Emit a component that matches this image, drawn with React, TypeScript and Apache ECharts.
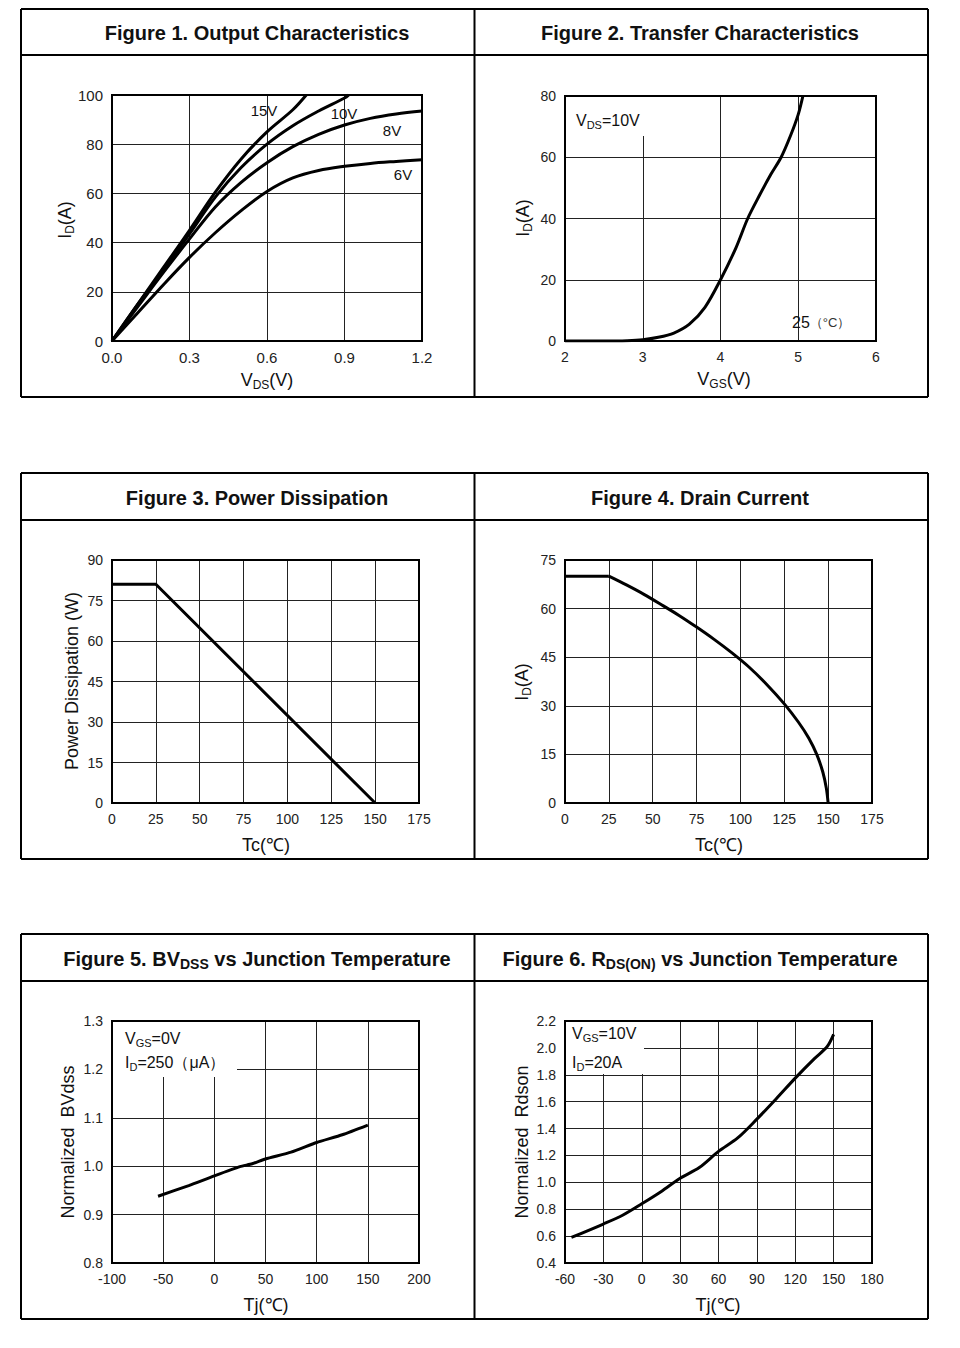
import React, { useEffect, useRef } from "react";
import * as echarts from "echarts";

const FONT = "'Liberation Sans', Arial, Helvetica, sans-serif";

// ---------- Figure 1: Output Characteristics ----------
const fig1XTicks = [0, 0.3, 0.6, 0.9, 1.2];
const fig1YTicks = [0, 20, 40, 60, 80, 100];
const fig1Vgs15 = [[0, 0], [0.1, 15], [0.2, 30], [0.3, 45], [0.4, 60.5], [0.5, 74], [0.6, 85], [0.7, 94], [0.752, 100]];
const fig1Vgs10 = [[0, 0], [0.1, 15], [0.2, 29], [0.3, 43.5], [0.4, 58.5], [0.5, 70.5], [0.6, 80], [0.7, 87.5], [0.8, 93.5], [0.9, 98.8], [0.916, 100]];
const fig1Vgs8 = [[0, 0], [0.1, 14], [0.2, 28], [0.3, 41.5], [0.4, 54.5], [0.5, 64.5], [0.6, 72.5], [0.7, 79], [0.8, 84], [0.9, 87.8], [1.0, 90.5], [1.1, 92.3], [1.2, 93.5]];
const fig1Vgs6 = [[0, 0], [0.1, 11.5], [0.2, 23], [0.3, 34], [0.4, 44], [0.5, 53], [0.6, 60.8], [0.7, 66.3], [0.8, 69.3], [0.9, 71], [1.0, 72.2], [1.1, 73], [1.2, 73.7]];
const fig1Labels = ["15V", "10V", "8V", "6V"];

// ---------- Figure 2: Transfer Characteristics ----------
const fig2XTicks = [2, 3, 4, 5, 6];
const fig2YTicks = [0, 20, 40, 60, 80];
const fig2Id = [[2, 0], [2.5, 0], [2.8, 0.1], [3, 0.4], [3.2, 1.2], [3.4, 2.6], [3.6, 5.5], [3.8, 11], [4, 20], [4.2, 30.5], [4.35, 40], [4.5, 47.5], [4.65, 54.5], [4.78, 60], [4.9, 67], [5.0, 74], [5.06, 80]];

// ---------- Figure 3: Power Dissipation ----------
const fig3XTicks = [0, 25, 50, 75, 100, 125, 150, 175];
const fig3YTicks = [0, 15, 30, 45, 60, 75, 90];
const fig3Pd = [[0, 81], [25, 81], [150, 0]];

// ---------- Figure 4: Drain Current ----------
const fig4XTicks = [0, 25, 50, 75, 100, 125, 150, 175];
const fig4YTicks = [0, 15, 30, 45, 60, 75];
const fig4IdFlat = [[0, 70], [25, 70]];
const fig4IdCurve = [[25, 70], [35, 67.3], [45, 64.4], [55, 61.2], [65, 57.9], [75, 54.3], [85, 50.5], [95, 46.4], [105, 41.9], [115, 36.6], [125, 30.6], [133, 25], [139, 20], [143.5, 15], [147, 9.5], [149, 4.5], [150, 0]];

// ---------- Figure 5: BVdss vs Tj ----------
const fig5XTicks = [-100, -50, 0, 50, 100, 150, 200];
const fig5YTicks = [0.8, 0.9, 1.0, 1.1, 1.2, 1.3];
const fig5Bv = [[-55, 0.938], [-25, 0.96], [0, 0.98], [25, 0.999], [37, 1.005], [50, 1.015], [75, 1.029], [100, 1.049], [125, 1.065], [150, 1.085]];

// ---------- Figure 6: Rds(on) vs Tj ----------
const fig6XTicks = [-60, -30, 0, 30, 60, 90, 120, 150, 180];
const fig6YTicks = [0.4, 0.6, 0.8, 1.0, 1.2, 1.4, 1.6, 1.8, 2.0, 2.2];
const fig6Rds = [[-55, 0.59], [-30, 0.69], [-15, 0.755], [0, 0.84], [15, 0.93], [30, 1.03], [45, 1.11], [60, 1.23], [75, 1.33], [90, 1.47], [105, 1.62], [120, 1.775], [135, 1.92], [145, 2.01], [150, 2.1]];

const titles = [
  "{t|Figure 1. Output Characteristics}",
  "{t|Figure 2. Transfer Characteristics}",
  "{t|Figure 3. Power Dissipation}",
  "{t|Figure 4. Drain Current}",
  "{t|Figure 5. BV}{u|DSS}{t| vs Junction Temperature}",
  "{t|Figure 6. R}{u|DS(ON)}{t| vs Junction Temperature}",
];

const grids = [
  { left: 112, top: 95, width: 310, height: 246 },
  { left: 565, top: 96, width: 311, height: 245 },
  { left: 112, top: 560, width: 307, height: 243 },
  { left: 565, top: 560, width: 307, height: 243 },
  { left: 112, top: 1021, width: 307, height: 242 },
  { left: 565, top: 1021, width: 307, height: 242 },
];

const rows = [
  { top: 9, titleLine: 55, bottom: 397 },
  { top: 473, titleLine: 520, bottom: 859 },
  { top: 934, titleLine: 981, bottom: 1319 },
];

function ticksAxis(i: number, ticks: number[], fmt: (v: number) => string, fs: number) {
  return {
    gridIndex: i,
    type: "value",
    min: ticks[0],
    max: ticks[ticks.length - 1],
    interval: Math.round((ticks[1] - ticks[0]) * 1000) / 1000,
    axisLine: { show: false },
    axisTick: { show: false },
    splitLine: { show: true, lineStyle: { color: "#222", width: 1 } },
    axisLabel: {
      fontSize: fs,
      color: "#222",
      fontFamily: FONT,
      margin: 9,
      formatter: (v: number) => fmt(v),
    },
  };
}

const int = (v: number) => String(Math.round(v));
const one = (v: number) => v.toFixed(1);

const richAxis = {
  n: { fontSize: 18, fontFamily: FONT, fill: "#111", color: "#111", lineHeight: 22 },
  s: { fontSize: 12, fontFamily: FONT, fill: "#111", color: "#111", lineHeight: 12, verticalAlign: "bottom" },
};
const richNote = {
  a: { fontSize: 16, fontFamily: FONT, fill: "#111", color: "#111", lineHeight: 20 },
  b: { fontSize: 11, fontFamily: FONT, fill: "#111", color: "#111", lineHeight: 11, verticalAlign: "bottom" },
  c: { fontSize: 13, fontFamily: FONT, fill: "#333", color: "#333", lineHeight: 20 },
};
const richTitle = {
  t: { fontSize: 20, fontWeight: "bold", fontFamily: FONT, fill: "#111", color: "#111", lineHeight: 24 },
  u: { fontSize: 14, fontWeight: "bold", fontFamily: FONT, fill: "#111", color: "#111", lineHeight: 20, verticalAlign: "bottom" },
};

function txt(x: number, y: number, text: string, rich: any, align = "center", rotation = 0, z = 30) {
  return {
    type: "text",
    x,
    y,
    rotation,
    z,
    style: { text, rich, align, verticalAlign: "middle", fill: "#111", fontFamily: FONT },
  };
}

function plainTxt(x: number, y: number, text: string, fontSize: number, align = "center", rotation = 0) {
  return {
    type: "text",
    x,
    y,
    rotation,
    z: 30,
    style: { text, fontSize, fontFamily: FONT, align, verticalAlign: "middle", fill: "#111" },
  };
}

function line(x1: number, y1: number, x2: number, y2: number) {
  return { type: "line", z: 40, shape: { x1, y1, x2, y2 }, style: { stroke: "#000", lineWidth: 2 } };
}

function whiteRect(x: number, y: number, w: number, h: number) {
  return { type: "rect", z: 20, shape: { x, y, width: w, height: h }, style: { fill: "#fff" } };
}

export default function App() {
  const ref = useRef<HTMLDivElement>(null);

  useEffect(() => {
    if (!ref.current) return;
    const chart = echarts.init(ref.current, undefined, { renderer: "svg" });

    const xAxes = [
      ticksAxis(0, fig1XTicks, one, 15),
      ticksAxis(1, fig2XTicks, int, 14),
      ticksAxis(2, fig3XTicks, int, 14),
      ticksAxis(3, fig4XTicks, int, 14),
      ticksAxis(4, fig5XTicks, int, 14),
      ticksAxis(5, fig6XTicks, int, 14),
    ];
    const yAxes = [
      ticksAxis(0, fig1YTicks, int, 15),
      ticksAxis(1, fig2YTicks, int, 14),
      ticksAxis(2, fig3YTicks, int, 14),
      ticksAxis(3, fig4YTicks, int, 14),
      ticksAxis(4, fig5YTicks, one, 14),
      ticksAxis(5, fig6YTicks, one, 14),
    ];

    const curve = (i: number, data: number[][], smooth: number | boolean) => ({
      type: "line",
      xAxisIndex: i,
      yAxisIndex: i,
      data,
      showSymbol: false,
      smooth,
      silent: true,
      lineStyle: { color: "#000", width: 3 },
      z: 5,
    });

    const series = [
      curve(0, fig1Vgs15, 0.35),
      curve(0, fig1Vgs10, 0.35),
      curve(0, fig1Vgs8, 0.35),
      curve(0, fig1Vgs6, 0.35),
      curve(1, fig2Id, 0.3),
      curve(2, fig3Pd, false),
      curve(3, fig4IdFlat, false),
      curve(3, fig4IdCurve, 0.3),
      curve(4, fig5Bv, 0.2),
      curve(5, fig6Rds, 0.3),
    ];

    const graphic: any[] = [];
    rows.forEach((r) => {
      graphic.push(line(21, r.top, 928, r.top));
      graphic.push(line(21, r.bottom, 928, r.bottom));
      graphic.push(line(21, r.top, 21, r.bottom));
      graphic.push(line(928, r.top, 928, r.bottom));
      graphic.push(line(21, r.titleLine, 928, r.titleLine));
      graphic.push(line(474.5, r.top, 474.5, r.bottom));
    });
    const titleX = [257, 700];
    titles.forEach((t, i) => {
      const r = rows[Math.floor(i / 2)];
      graphic.push(txt(titleX[i % 2], (r.top + r.titleLine) / 2 + 1, t, richTitle));
    });
    grids.forEach((g) => {
      graphic.push({
        type: "rect",
        z: 45,
        shape: { x: g.left, y: g.top, width: g.width, height: g.height },
        style: { fill: "none", stroke: "#000", lineWidth: 2 },
      });
    });
    graphic.push(txt(65, 220, "{n|I}{s|D}{n|(A)}", richAxis, "center", Math.PI / 2));
    graphic.push(txt(267, 380, "{n|V}{s|DS}{n|(V)}", richAxis));
    graphic.push(txt(523, 218, "{n|I}{s|D}{n|(A)}", richAxis, "center", Math.PI / 2));
    graphic.push(txt(724, 379, "{n|V}{s|GS}{n|(V)}", richAxis));
    graphic.push(plainTxt(72, 681, "Power Dissipation (W)", 18, "center", Math.PI / 2));
    graphic.push(plainTxt(266, 845, "Tc(℃)", 18));
    graphic.push(txt(522, 682, "{n|I}{s|D}{n|(A)}", richAxis, "center", Math.PI / 2));
    graphic.push(plainTxt(719, 845, "Tc(℃)", 18));
    graphic.push(plainTxt(68, 1142, "Normalized  BVdss", 18, "center", Math.PI / 2));
    graphic.push(plainTxt(266, 1305, "Tj(℃)", 18));
    graphic.push(plainTxt(522, 1142, "Normalized  Rdson", 18, "center", Math.PI / 2));
    graphic.push(plainTxt(718, 1305, "Tj(℃)", 18));

    const f1pos = [[264, 110], [344, 113], [392, 130], [403, 174]];
    fig1Labels.forEach((l, i) => graphic.push(plainTxt(f1pos[i][0], f1pos[i][1], l, 15)));

    graphic.push(whiteRect(567, 97, 80, 39));
    graphic.push(txt(576, 120, "{a|V}{b|DS}{a|=10V}", richNote, "left"));
    graphic.push(txt(792, 322, "{a|25}{c|（°C）}", richNote, "left"));

    graphic.push(whiteRect(113, 1022, 124, 55));
    graphic.push(txt(125, 1038, "{a|V}{b|GS}{a|=0V}", richNote, "left"));
    graphic.push(txt(125, 1062, "{a|I}{b|D}{a|=250（μA）}", richNote, "left"));

    graphic.push(whiteRect(566, 1022, 78, 52));
    graphic.push(txt(572, 1033, "{a|V}{b|GS}{a|=10V}", richNote, "left"));
    graphic.push(txt(572, 1062, "{a|I}{b|D}{a|=20A}", richNote, "left"));

    chart.setOption({
      animation: false,
      backgroundColor: "#fff",
      textStyle: { fontFamily: FONT },
      grid: grids.map((g) => ({ ...g, containLabel: false, show: false })),
      xAxis: xAxes,
      yAxis: yAxes,
      series,
      graphic,
    });

    return () => chart.dispose();
  }, []);

  return (
    <div
      ref={ref}
      style={{ position: "absolute", left: 0, top: 0, width: 960, height: 1348, background: "#fff" }}
    />
  );
}
